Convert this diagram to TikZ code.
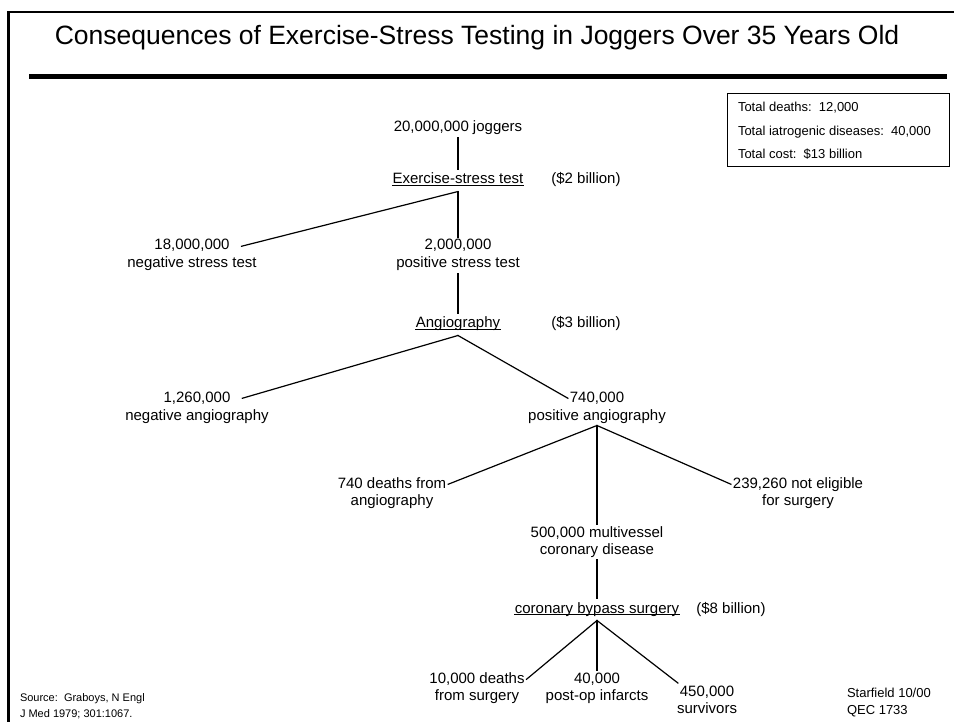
\documentclass[tikz,border=0pt]{standalone}
\usepackage{fontspec}
\setmainfont{Liberation Sans}
\usepackage{tikz}

\begin{document}
\begin{tikzpicture}[x=1pt,y=-1pt,line cap=rect,
    lbl/.style={inner xsep=2pt, inner ysep=2pt, outer sep=0pt, anchor=base,
      text height=11pt, text depth=3.5pt, font=\fontsize{15pt}{15pt}\selectfont},
    hdr/.style={lbl, inner xsep=0pt, inner ysep=4pt},
    note/.style={inner sep=0pt, outer sep=0pt, anchor=base west},
    wire/.style={line width=1.2pt},
    ulline/.style={line width=1pt}]
  \def\slidefontA#1{\fontsize{#1}{#1}\selectfont} % sizes as on the slide
  \useasboundingbox (0,0) rectangle (954,722);
  % slide frame and title
  \draw [line width=2.3pt] (954,12) -- (8.5,12) -- (8.5,722);
  \node[inner sep=0, outer sep=0, anchor=base] (title) at (477,45) {\slidefontA{26.5pt}Consequences of Exercise-Stress Testing in Joggers Over 35 Years Old};
  \draw [line width=5pt] (31,77) -- (944,77);
  % totals box
  \draw [line width=1pt] (727,94) rectangle (949,167);
  \node[note] (tdeath) at (738,112) {\slidefontA{13pt}Total deaths:\ \ 12,000};
  \node[note] (tiatro) at (738,136) {\slidefontA{13pt}Total iatrogenic diseases:\ \ 40,000};
  \node[note] (tcost) at (738,159) {\slidefontA{13pt}Total cost:\ \ \$13 billion};
  % tree
  \node[lbl] (jog) at (458,132) {20,000,000 joggers};
  \node[hdr] (est) at (458,184) {Exercise-stress test};
  \node[lbl] (cost2) at (586,184) {(\$2 billion)};
  \node[lbl] (n18) at (192,250) {18,000,000};
  \node[lbl] (n18b) at (192,268) {negative stress test};
  \node[lbl] (n2m) at (458,250) {2,000,000};
  \node[lbl] (n2mb) at (458,268) {positive stress test};
  \node[hdr] (ang) at (458,328) {Angiography};
  \node[lbl] (cost3) at (586,328) {(\$3 billion)};
  \node[lbl] (n126) at (197,402) {1,260,000};
  \node[lbl] (n126b) at (197,420) {negative angiography};
  \node[lbl] (n740) at (597,402) {740,000};
  \node[lbl] (n740b) at (597,420) {positive angiography};
  \node[lbl] (d740) at (392,488) {740 deaths from};
  \node[lbl] (d740b) at (392,505) {angiography};
  \node[lbl] (n239) at (798,488) {239,260 not eligible};
  \node[lbl] (n239b) at (798,505) {for surgery};
  \node[lbl] (n500) at (597,537) {500,000 multivessel};
  \node[lbl] (n500b) at (597,554) {coronary disease};
  \node[hdr] (cabg) at (597,613) {coronary bypass surgery};
  \node[lbl] (cost8) at (731,613) {(\$8 billion)};
  \node[lbl] (d10k) at (477,683) {10,000 deaths};
  \node[lbl] (d10kb) at (477,700) {from surgery};
  \node[lbl] (n40k) at (597,683) {40,000};
  \node[lbl] (n40kb) at (597,700) {post-op infarcts};
  \node[lbl] (n450) at (707,696) {450,000};
  \node[lbl] (n450b) at (707,713) {survivors};
  % underlines
  \draw [ulline] ([yshift=-1.5pt]est.base west) -- ([yshift=-1.5pt]est.base east);
  \draw [ulline] ([yshift=-1.5pt]ang.base west) -- ([yshift=-1.5pt]ang.base east);
  \draw [ulline] ([yshift=-1.5pt]cabg.base west) -- ([yshift=-1.5pt]cabg.base east);
  % connectors
  \draw [wire] (jog.south) -- (est.north);
  \draw [wire] (est.south) -- ([xshift=10pt]n18.east);
  \draw [wire] (est.south) -- (n2m.north);
  \draw [wire] (n2mb.south) -- (ang.north);
  \draw [wire] (ang.south) -- ([xshift=10pt]n126.east);
  \draw [wire] (ang.south) -- (n740.west);
  \draw [wire] (n740b.south) -- (d740.east);
  \draw [wire] (n740b.south) -- (n500.north);
  \draw [wire] (n740b.south) -- (n239.west);
  \draw [wire] (n500b.south) -- (cabg.north);
  \draw [wire] (cabg.south) -- (d10k.east);
  \draw [wire] (cabg.south) -- (n40k.north);
  \draw [wire] (cabg.south) -- (n450.north west);
  % footer
  \node[note] (src) at (20,701) {\slidefontA{11pt}Source:\ \ Graboys, N Engl};
  \node[note] (src2) at (20,717) {\slidefontA{11pt}J Med 1979; 301:1067.};
  \node[note] (stf) at (847,697) {\slidefontA{13pt}Starfield 10/00};
  \node[note] (qec) at (847,714) {\slidefontA{13pt}QEC 1733};
\end{tikzpicture}
\end{document}
